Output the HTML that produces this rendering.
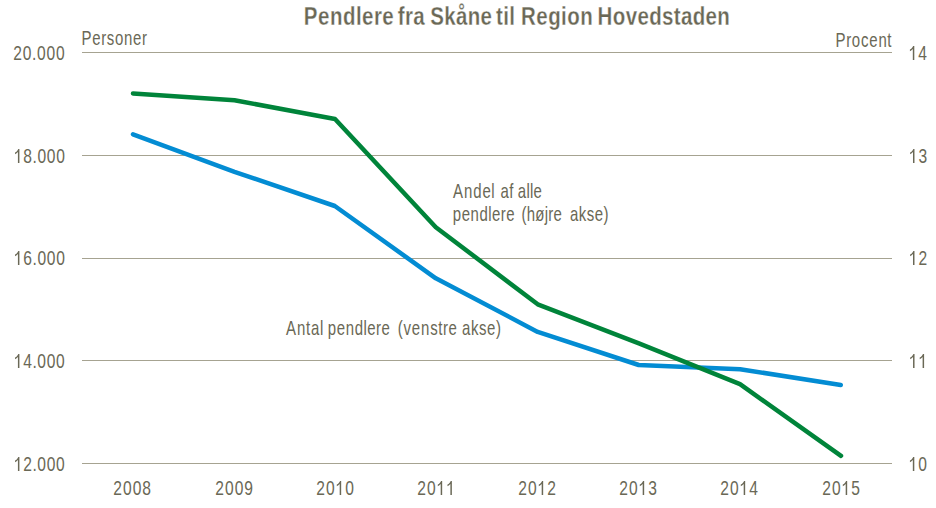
<!DOCTYPE html>
<html><head><meta charset="utf-8"><style>
html,body{margin:0;padding:0;background:#fff;width:936px;height:508px;overflow:hidden}
svg{display:block}
text{font-family:"Liberation Sans",sans-serif;fill:#6a6856}
g{fill:#6a6856}
</style></head><body>
<svg width="936" height="508" viewBox="0 0 936 508">
<rect width="936" height="508" fill="#fff"/>
<rect x="82" y="52" width="810" height="1" fill="#a6a391"/>
<rect x="82" y="155" width="810" height="1" fill="#a6a391"/>
<rect x="82" y="258" width="810" height="1" fill="#a6a391"/>
<rect x="82" y="360" width="810" height="1" fill="#a6a391"/>
<rect x="82" y="463" width="810" height="1" fill="#a6a391"/>
<g transform="translate(303.39,25)"><g transform="scale(0.82,1)"><text x="0.39 17.77 32.35 48.32 64.11 71.54 85.99 96.26" font-size="25" font-weight="bold" stroke="#fff" stroke-width="0.3">Pendlere</text></g></g>
<g transform="translate(397.62,25)"><g transform="scale(0.82,1)"><text x="0.18 8.89 19.12" font-size="25" font-weight="bold" stroke="#fff" stroke-width="0.3">fra</text></g></g>
<g transform="translate(430.05,25)"><g transform="scale(0.82,1)"><text x="0.23 17.33 31.62 45.93 61.61" font-size="25" font-weight="bold" stroke="#fff" stroke-width="0.3">Skåne</text></g></g>
<g transform="translate(495.98,25)"><g transform="scale(0.82,1)"><text x="0.18 8.83 16.07" font-size="25" font-weight="bold" stroke="#fff" stroke-width="0.3">til</text></g></g>
<g transform="translate(520.59,25)"><g transform="scale(0.82,1)"><text x="0.39 19.14 33.68 49.43 56.86 72.80" font-size="25" font-weight="bold" stroke="#fff" stroke-width="0.3">Region</text></g></g>
<g transform="translate(597.40,25)"><g transform="scale(0.82,1)"><text x="0.27 18.83 34.54 48.87 63.21 78.92 93.16 101.82 116.17 131.88 146.22" font-size="25" font-weight="bold" stroke="#fff" stroke-width="0.3">Hovedstaden</text></g></g>
<g transform="translate(81.15,45)"><g transform="scale(0.75,1)"><text x="0.57 14.97 26.86 34.23 45.14 57.22 69.30 81.19" font-size="20">Personer</text></g></g>
<g transform="translate(834.99,47)"><g transform="scale(0.75,1)"><text x="0.65 14.97 22.50 34.66 45.69 57.90 69.84" font-size="20">Procent</text></g></g>
<g transform="translate(12.97,60)"><g transform="scale(0.78,1)"><text x="0.50 12.62 24.49 30.80 42.92 55.04" font-size="20">20.000</text></g></g>
<g transform="translate(13.52,163)"><g transform="scale(0.78,1)"><text x="12.53 24.35 30.61 42.67 54.73" font-size="20">8.000</text><path transform="translate(0.468,0) scale(0.00977,-0.00977)" d="M725 0L530 0L530 1114Q465 1054 359 994Q253 934 150 903L150 1072Q301 1141 414 1239Q527 1337 574 1430L725 1430Z"/></g></g>
<g transform="translate(13.52,265)"><g transform="scale(0.78,1)"><text x="12.53 24.35 30.61 42.67 54.73" font-size="20">6.000</text><path transform="translate(0.468,0) scale(0.00977,-0.00977)" d="M725 0L530 0L530 1114Q465 1054 359 994Q253 934 150 903L150 1072Q301 1141 414 1239Q527 1337 574 1430L725 1430Z"/></g></g>
<g transform="translate(13.53,368)"><g transform="scale(0.78,1)"><text x="12.48 24.29 30.53 42.56 54.59" font-size="20">4.000</text><path transform="translate(0.454,0) scale(0.00977,-0.00977)" d="M725 0L530 0L530 1114Q465 1054 359 994Q253 934 150 903L150 1072Q301 1141 414 1239Q527 1337 574 1430L725 1430Z"/></g></g>
<g transform="translate(13.53,471)"><g transform="scale(0.78,1)"><text x="12.48 24.29 30.53 42.56 54.59" font-size="20">2.000</text><path transform="translate(0.454,0) scale(0.00977,-0.00977)" d="M725 0L530 0L530 1114Q465 1054 359 994Q253 934 150 903L150 1072Q301 1141 414 1239Q527 1337 574 1430L725 1430Z"/></g></g>
<g transform="translate(908.33,60)"><g transform="scale(0.78,1)"><text x="12.83" font-size="20">4</text><path transform="translate(0.570,0) scale(0.00977,-0.00977)" d="M725 0L530 0L530 1114Q465 1054 359 994Q253 934 150 903L150 1072Q301 1141 414 1239Q527 1337 574 1430L725 1430Z"/></g></g>
<g transform="translate(908.51,163)"><g transform="scale(0.78,1)"><text x="12.83" font-size="20">3</text><path transform="translate(0.570,0) scale(0.00977,-0.00977)" d="M725 0L530 0L530 1114Q465 1054 359 994Q253 934 150 903L150 1072Q301 1141 414 1239Q527 1337 574 1430L725 1430Z"/></g></g>
<g transform="translate(908.51,265)"><g transform="scale(0.78,1)"><text x="12.83" font-size="20">2</text><path transform="translate(0.570,0) scale(0.00977,-0.00977)" d="M725 0L530 0L530 1114Q465 1054 359 994Q253 934 150 903L150 1072Q301 1141 414 1239Q527 1337 574 1430L725 1430Z"/></g></g>
<g transform="translate(908.56,368)"><g transform="scale(0.78,1)"><path transform="translate(0.570,0) scale(0.00977,-0.00977)" d="M725 0L530 0L530 1114Q465 1054 359 994Q253 934 150 903L150 1072Q301 1141 414 1239Q527 1337 574 1430L725 1430Z"/><path transform="translate(12.834,0) scale(0.00977,-0.00977)" d="M725 0L530 0L530 1114Q465 1054 359 994Q253 934 150 903L150 1072Q301 1141 414 1239Q527 1337 574 1430L725 1430Z"/></g></g>
<g transform="translate(908.34,471)"><g transform="scale(0.78,1)"><text x="12.83" font-size="20">0</text><path transform="translate(0.570,0) scale(0.00977,-0.00977)" d="M725 0L530 0L530 1114Q465 1054 359 994Q253 934 150 903L150 1072Q301 1141 414 1239Q527 1337 574 1430L725 1430Z"/></g></g>
<g transform="translate(112.74,495)"><g transform="scale(0.78,1)"><text x="0.66 13.09 25.53 37.96" font-size="20">2008</text></g></g>
<g transform="translate(214.74,495)"><g transform="scale(0.78,1)"><text x="0.66 13.09 25.53 37.96" font-size="20">2009</text></g></g>
<g transform="translate(315.74,495)"><g transform="scale(0.78,1)"><text x="0.66 13.09 37.96" font-size="20">200</text><path transform="translate(25.526,0) scale(0.00977,-0.00977)" d="M725 0L530 0L530 1114Q465 1054 359 994Q253 934 150 903L150 1072Q301 1141 414 1239Q527 1337 574 1430L725 1430Z"/></g></g>
<g transform="translate(416.74,495)"><g transform="scale(0.78,1)"><text x="0.66 13.09" font-size="20">20</text><path transform="translate(25.526,0) scale(0.00977,-0.00977)" d="M725 0L530 0L530 1114Q465 1054 359 994Q253 934 150 903L150 1072Q301 1141 414 1239Q527 1337 574 1430L725 1430Z"/><path transform="translate(37.961,0) scale(0.00977,-0.00977)" d="M725 0L530 0L530 1114Q465 1054 359 994Q253 934 150 903L150 1072Q301 1141 414 1239Q527 1337 574 1430L725 1430Z"/></g></g>
<g transform="translate(517.74,495)"><g transform="scale(0.78,1)"><text x="0.66 13.09 37.96" font-size="20">202</text><path transform="translate(25.526,0) scale(0.00977,-0.00977)" d="M725 0L530 0L530 1114Q465 1054 359 994Q253 934 150 903L150 1072Q301 1141 414 1239Q527 1337 574 1430L725 1430Z"/></g></g>
<g transform="translate(618.74,495)"><g transform="scale(0.78,1)"><text x="0.66 13.09 37.96" font-size="20">203</text><path transform="translate(25.526,0) scale(0.00977,-0.00977)" d="M725 0L530 0L530 1114Q465 1054 359 994Q253 934 150 903L150 1072Q301 1141 414 1239Q527 1337 574 1430L725 1430Z"/></g></g>
<g transform="translate(719.74,495)"><g transform="scale(0.78,1)"><text x="0.66 13.09 37.96" font-size="20">204</text><path transform="translate(25.526,0) scale(0.00977,-0.00977)" d="M725 0L530 0L530 1114Q465 1054 359 994Q253 934 150 903L150 1072Q301 1141 414 1239Q527 1337 574 1430L725 1430Z"/></g></g>
<g transform="translate(821.74,495)"><g transform="scale(0.78,1)"><text x="0.66 13.09 37.96" font-size="20">205</text><path transform="translate(25.526,0) scale(0.00977,-0.00977)" d="M725 0L530 0L530 1114Q465 1054 359 994Q253 934 150 903L150 1072Q301 1141 414 1239Q527 1337 574 1430L725 1430Z"/></g></g>
<g transform="translate(452.51,198)"><g transform="scale(0.75,1)"><text x="0.69 15.30 27.57 39.85 51.77" font-size="20">Andel</text></g></g>
<g transform="translate(500.12,198)"><g transform="scale(0.75,1)"><text x="0.37 12.05" font-size="20">af</text></g></g>
<g transform="translate(517.68,198)"><g transform="scale(0.75,1)"><text x="0.26 11.74 16.39 21.19" font-size="20">alle</text></g></g>
<g transform="translate(452.55,221)"><g transform="scale(0.75,1)"><text x="0.37 12.23 24.09 35.95 47.58 52.54 64.25 71.50" font-size="20">pendlere</text></g></g>
<g transform="translate(521.35,221)"><g transform="scale(0.75,1)"><text x="0.12 7.09 18.62 31.13 35.77 42.74" font-size="20">(højre</text></g></g>
<g transform="translate(569.84,221)"><g transform="scale(0.75,1)"><text x="0.31 12.01 22.56 33.14 44.75" font-size="20">akse)</text></g></g>
<g transform="translate(285.36,335)"><g transform="scale(0.75,1)"><text x="0.77 15.52 27.61 34.13 46.15" font-size="20">Antal</text></g></g>
<g transform="translate(327.52,335)"><g transform="scale(0.75,1)"><text x="0.41 12.36 24.31 36.25 47.95 52.97 64.75 72.07" font-size="20">pendlere</text></g></g>
<g transform="translate(397.56,335)"><g transform="scale(0.75,1)"><text x="0.34 7.87 18.96 31.24 43.45 54.26 60.45 68.03" font-size="20">(venstre</text></g></g>
<g transform="translate(461.65,335)"><g transform="scale(0.75,1)"><text x="0.42 12.33 23.08 33.87 45.66" font-size="20">akse)</text></g></g>
<polyline points="133.0,134.3 234.5,171.8 334.8,206.0 435.8,278.3 537.7,331.9 638.7,365.0 740.1,369.2 840.8,385.0" fill="none" stroke="#038cd3" stroke-width="4.5" stroke-linejoin="round" stroke-linecap="round"/>
<polyline points="133.0,93.5 234.5,100.2 335.0,119.0 435.8,227.2 537.7,304.3 638.9,343.3 740.0,384.2 841.0,455.8" fill="none" stroke="#00843a" stroke-width="4.5" stroke-linejoin="round" stroke-linecap="round"/>
</svg>
</body></html>
